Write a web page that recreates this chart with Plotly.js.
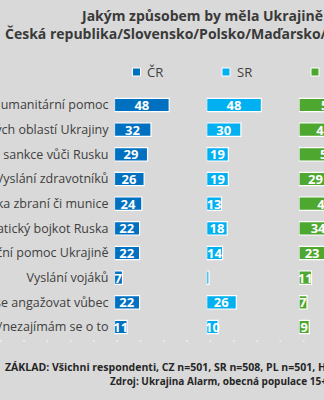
<!DOCTYPE html>
<html><head><meta charset="utf-8">
<script src="https://cdn.plot.ly/plotly-3.0.1.min.js"></script>
<style>html,body{margin:0;padding:0;width:324px;height:400px;overflow:hidden;background:#d9d9d9}#chart{width:420px;height:400px}</style>
</head><body><div id="chart"></div>
<script>
const categories = ['Humanitární pomoc','Přijímání uprchlíků z válečných oblastí Ukrajiny','Ekonomické sankce vůči Rusku','Vyslání zdravotníků','Dodávka zbraní či munice','Diplomatický bojkot Ruska','Finanční pomoc Ukrajině','Vyslání vojáků','Neměla by se angažovat vůbec','Nevím/nezajímám se o to'];
const seriesNames = ['ČR','SR','PL'];
const valuesCR = [48,32,29,26,24,22,22,7,22,11];
const valuesSR = [48,30,19,19,13,18,14,2,26,10];
const valuesPL = [52,44,50,29,45,34,23,11,7,9];
const titleLine1 = 'Jakým způsobem by měla Ukrajině';
const titleLine2 = 'Česká republika/Slovensko/Polsko/Maďarsko/';
const footer1 = 'ZÁKLAD: Všichni respondenti, CZ n=501, SR n=508, PL n=501, HU n=500';
const footer2 = 'Zdroj: Ukrajina Alarm, obecná populace 15+';

const W = 420, H = 400;
const px = x => x / W, py = y => 1 - y / H;
const colors = ['#0070c0','#00b0f0','#4ea72e'];
const series = [valuesCR, valuesSR, valuesPL];
const panelStart = [114.5, 206.7, 299];
const panelWidth = 85, scale = 1.14;
const legendCx = [136.5, 226, 315];
const axNames = ['x','x2','x3'];

const traces = series.map((vals, i) => ({
  type: 'bar', orientation: 'h', name: seriesNames[i],
  x: vals, y: categories, xaxis: axNames[i], yaxis: 'y',
  text: vals.map(v => v >= 5 ? String(v) : ''),
  textposition: 'inside', insidetextanchor: 'middle', textangle: 0,
  textfont: {family: 'Open Sans', size: 13, color: '#ffffff', weight: 'bold'},
  marker: {color: colors[i], line: {color: '#ffffff', width: 1.2}},
  width: 0.54, showlegend: false, hoverinfo: 'skip'
}));

const layout = {
  width: W, height: H,
  margin: {l: 0, r: 0, t: 0, b: 0, pad: 0},
  paper_bgcolor: '#d9d9d9', plot_bgcolor: 'rgba(0,0,0,0)',
  showlegend: false,
  uniformtext: {minsize: 13, mode: 'show'},
  font: {family: 'Open Sans', color: '#404040'},
  title: {text: titleLine1, x: px(82), xanchor: 'left', xref: 'paper', y: py(16), yanchor: 'middle', yref: 'container',
          font: {family: 'Open Sans', size: 14, color: '#3a3a3a', weight: 'bold'}},
  yaxis: {type: 'category', categoryorder: 'array', categoryarray: categories, autorange: 'reversed',
          domain: [py(339.35), py(92.65)], anchor: 'x', ticks: '', showgrid: false, zeroline: false, showline: false,
          tickfont: {family: 'Open Sans', size: 12.5, color: '#404040'}, ticklabelstandoff: 5},
  annotations: [],
  shapes: []
};
axNames.forEach((a, i) => {
  const key = i === 0 ? 'xaxis' : 'xaxis' + (i + 1);
  layout[key] = {domain: [px(panelStart[i]), px(panelStart[i] + panelWidth)], range: [0, panelWidth / scale],
                 visible: false, anchor: 'y', fixedrange: true};
});
// legend built from series names
seriesNames.forEach((n, i) => {
  const cx = legendCx[i], cy = 72;
  layout.shapes.push({type: 'rect', xref: 'paper', yref: 'paper', x0: px(cx - 4), x1: px(cx + 4), y0: py(cy + 4), y1: py(cy - 4),
                      fillcolor: colors[i], line: {color: '#ffffff', width: 1}});
  layout.annotations.push({text: n, xref: 'paper', yref: 'paper', x: px(cx + 8.5), y: py(cy), xanchor: 'left', yanchor: 'middle',
                           showarrow: false, font: {family: 'Open Sans', size: 13, color: '#404040'}});
});
layout.annotations.push({text: titleLine2, xref: 'paper', yref: 'paper', x: px(3), y: py(33), xanchor: 'left', yanchor: 'middle',
                         showarrow: false, font: {family: 'Open Sans', size: 14, color: '#3a3a3a', weight: 'bold'}});
layout.annotations.push({text: footer1, xref: 'paper', yref: 'paper', x: px(3), y: py(367), xanchor: 'left', yanchor: 'middle',
                         showarrow: false, font: {family: 'Open Sans', size: 10.5, color: '#262626', weight: 'bold'}});
layout.annotations.push({text: footer2, xref: 'paper', yref: 'paper', x: px(107.7), y: py(381), xanchor: 'left', yanchor: 'middle',
                         showarrow: false, font: {family: 'Open Sans', size: 10, color: '#262626', weight: 'bold'}});
layout.shapes.push({type: 'line', xref: 'paper', yref: 'paper', x0: 0, x1: 1, y0: py(341), y1: py(341),
                    line: {color: 'rgba(255,255,255,0.7)', width: 1.5, dash: '1.5px,21.8px'}});

Plotly.newPlot('chart', traces, layout, {displayModeBar: false, staticPlot: true});
</script>
</body></html>
